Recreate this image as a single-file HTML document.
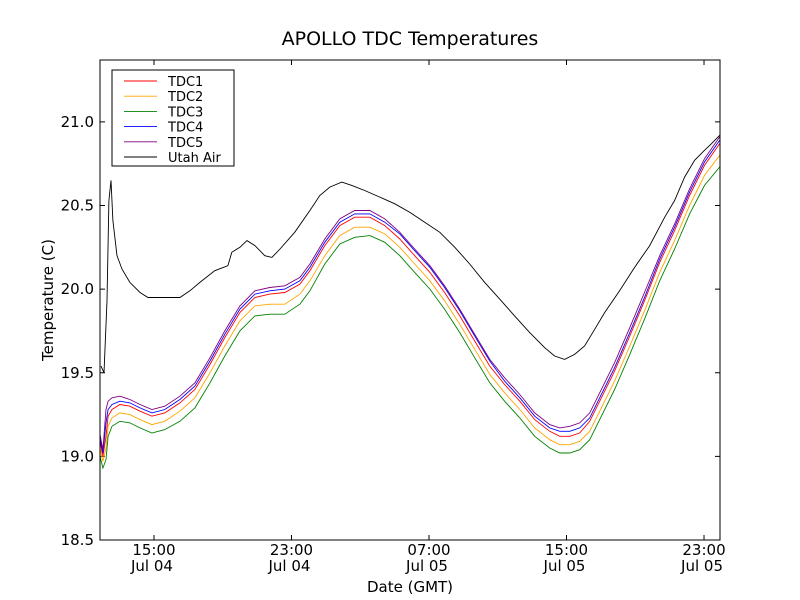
<!DOCTYPE html>
<html><head><meta charset="utf-8"><style>
body{margin:0;background:#fff;}
svg{display:block;font-family:"DejaVu Sans","Liberation Sans",sans-serif;}
</style></head><body>
<svg id="c" width="800" height="600">
<rect width="800" height="600" fill="#fff"/>
<text x="410" y="45" text-anchor="middle" font-size="19">APOLLO TDC Temperatures</text>
<text x="410" y="592" text-anchor="middle" font-size="15">Date (GMT)</text>
<text transform="translate(53,300) rotate(-90)" text-anchor="middle" font-size="15">Temperature (C)</text>
<g id="ax"></g>
<g id="series"></g>
<rect x="100" y="60" width="620" height="480" fill="none" stroke="#000" stroke-width="1"/>
<g id="legend"></g>
</svg>
<script>
const xTicks=[15,23,31,39,47];
const xTickLabels=[["15:00","Jul 04"],["23:00","Jul 04"],["07:00","Jul 05"],["15:00","Jul 05"],["23:00","Jul 05"]];
const yTicks=[18.5,19.0,19.5,20.0,20.5,21.0];
const hoursTDC=[11.86,12.03,12.21,12.33,12.56,13.02,13.60,14.19,14.88,15.63,16.51,17.38,18.26,19.12,20.00,20.87,21.74,22.61,23.49,24.07,24.94,25.81,26.68,27.56,28.43,29.30,30.17,31.05,31.91,32.79,33.66,34.54,35.40,36.28,37.15,38.02,38.61,39.19,39.77,40.35,40.93,41.80,42.68,43.54,44.42,45.29,46.16,47.03,47.91];
const tdc1=[19.09,19.00,19.12,19.24,19.28,19.31,19.30,19.27,19.24,19.26,19.32,19.40,19.55,19.71,19.86,19.95,19.97,19.98,20.03,20.11,20.26,20.38,20.43,20.43,20.38,20.30,20.20,20.10,19.98,19.84,19.69,19.54,19.43,19.33,19.22,19.15,19.12,19.12,19.14,19.21,19.33,19.51,19.72,19.93,20.16,20.35,20.56,20.74,20.87];
const tdc2=[19.05,18.97,19.05,19.18,19.23,19.26,19.25,19.22,19.19,19.21,19.27,19.35,19.50,19.66,19.81,19.90,19.91,19.91,19.97,20.05,20.20,20.32,20.37,20.37,20.33,20.25,20.15,20.05,19.93,19.79,19.64,19.49,19.38,19.28,19.17,19.10,19.07,19.07,19.09,19.15,19.27,19.45,19.66,19.87,20.10,20.29,20.50,20.68,20.80];
const tdc3=[19.00,18.93,18.98,19.12,19.18,19.21,19.20,19.17,19.14,19.16,19.21,19.29,19.44,19.60,19.75,19.84,19.85,19.85,19.91,19.99,20.15,20.27,20.31,20.32,20.28,20.20,20.10,20.00,19.88,19.74,19.59,19.44,19.33,19.23,19.12,19.05,19.02,19.02,19.04,19.10,19.22,19.40,19.61,19.82,20.05,20.24,20.45,20.62,20.73];
const tdc4=[19.11,19.02,19.20,19.28,19.31,19.33,19.32,19.29,19.26,19.28,19.34,19.42,19.57,19.73,19.88,19.97,19.99,20.00,20.05,20.13,20.28,20.40,20.45,20.45,20.40,20.33,20.23,20.13,20.01,19.87,19.72,19.57,19.45,19.35,19.24,19.17,19.15,19.15,19.17,19.23,19.35,19.53,19.74,19.95,20.18,20.37,20.58,20.76,20.89];
const tdc5=[19.13,19.04,19.28,19.33,19.35,19.36,19.34,19.31,19.28,19.30,19.36,19.44,19.59,19.75,19.90,19.99,20.01,20.02,20.07,20.15,20.30,20.42,20.47,20.47,20.42,20.34,20.24,20.14,20.02,19.88,19.73,19.58,19.47,19.37,19.26,19.19,19.17,19.18,19.20,19.26,19.38,19.56,19.77,19.98,20.20,20.39,20.60,20.78,20.91];
const hoursAir=[11.92,12.09,12.27,12.38,12.50,12.61,12.85,13.14,13.60,14.19,14.65,15.05,15.93,16.51,17.09,17.67,18.54,19.30,19.53,20.00,20.41,20.87,21.45,21.86,22.33,23.19,24.07,24.65,25.23,25.93,26.51,27.26,28.14,29.01,29.88,30.75,31.63,32.50,33.37,34.24,35.12,35.98,36.86,37.73,38.31,38.89,39.47,40.05,40.64,41.22,42.09,42.96,43.84,44.71,45.29,45.87,46.45,47.03,47.44,47.91];
const utahAir=[19.54,19.50,19.93,20.53,20.65,20.41,20.20,20.12,20.04,19.98,19.95,19.95,19.95,19.95,19.99,20.04,20.11,20.14,20.22,20.25,20.29,20.26,20.20,20.19,20.24,20.34,20.47,20.56,20.61,20.64,20.62,20.59,20.55,20.51,20.46,20.40,20.34,20.25,20.15,20.04,19.94,19.84,19.74,19.65,19.60,19.58,19.61,19.66,19.76,19.86,19.99,20.13,20.26,20.43,20.53,20.67,20.77,20.83,20.87,20.92];

const X0=100,X1=720,Y0=60,Y1=540;
const xMin=11.86,xMax=47.93,yMin=18.5,yMax=21.37;
const sx=h=>X0+(h-xMin)/(xMax-xMin)*(X1-X0);
const sy=v=>Y1-(v-yMin)/(yMax-yMin)*(Y1-Y0);
const NS="http://www.w3.org/2000/svg";
const ax=document.getElementById('ax');
function mk(tag,attrs,parent){const e=document.createElementNS(NS,tag);for(const k in attrs)e.setAttribute(k,attrs[k]);parent.appendChild(e);return e;}
xTicks.forEach((t,i)=>{
  const x=sx(t);
  const g=mk('g',{},ax);
  
  
  mk('line',{x1:x,x2:x,y1:Y1,y2:Y1-5,stroke:'#000'},g);
  mk('line',{x1:x,x2:x,y1:Y0,y2:Y0+5,stroke:'#000'},g);
  const t1=mk('text',{x:x,y:Y1+15,'text-anchor':'middle','font-size':'15'},g);t1.textContent=xTickLabels[i][0];
  const t2=mk('text',{x:x-2,y:Y1+31,'text-anchor':'middle','font-size':'15'},g);t2.textContent=xTickLabels[i][1];
});
yTicks.forEach(v=>{
  const y=sy(v);
  const g=mk('g',{},ax);
  
  
  mk('line',{x1:X0,x2:X0+5,y1:y,y2:y,stroke:'#000'},g);
  mk('line',{x1:X1,x2:X1-5,y1:y,y2:y,stroke:'#000'},g);
  const t=mk('text',{x:X0-6,y:y+5,'text-anchor':'end','font-size':'15'},g);t.textContent=v.toFixed(1);
});
const ser=document.getElementById('series');
const defs=[["TDC1",hoursTDC,tdc1,"#ff0000"],["TDC2",hoursTDC,tdc2,"#ffa500"],["TDC3",hoursTDC,tdc3,"#008000"],["TDC4",hoursTDC,tdc4,"#0000ff"],["TDC5",hoursTDC,tdc5,"#800080"],["Utah Air",hoursAir,utahAir,"#000000"]];
defs.forEach(d=>{
  const pts=d[1].map((h,i)=>sx(h).toFixed(1)+","+sy(d[2][i]).toFixed(1)).join(" ");
  const p=mk('polyline',{points:pts,fill:'none',stroke:d[3],'stroke-width':'0.9'},ser);
  
  
});
const lg=document.getElementById('legend');
mk('rect',{x:112,y:70,width:122,height:96,fill:'#fff',stroke:'#000'},lg);
defs.forEach((d,i)=>{
  const y=81+i*15.2;
  const g=mk('g',{},lg);
  
  
  mk('line',{x1:124,x2:157,y1:y,y2:y,stroke:d[3],'stroke-width':'0.9'},g);
  const t=mk('text',{x:168,y:y+5,'font-size':'13'},g);t.textContent=d[0];
});
</script>
</body></html>
